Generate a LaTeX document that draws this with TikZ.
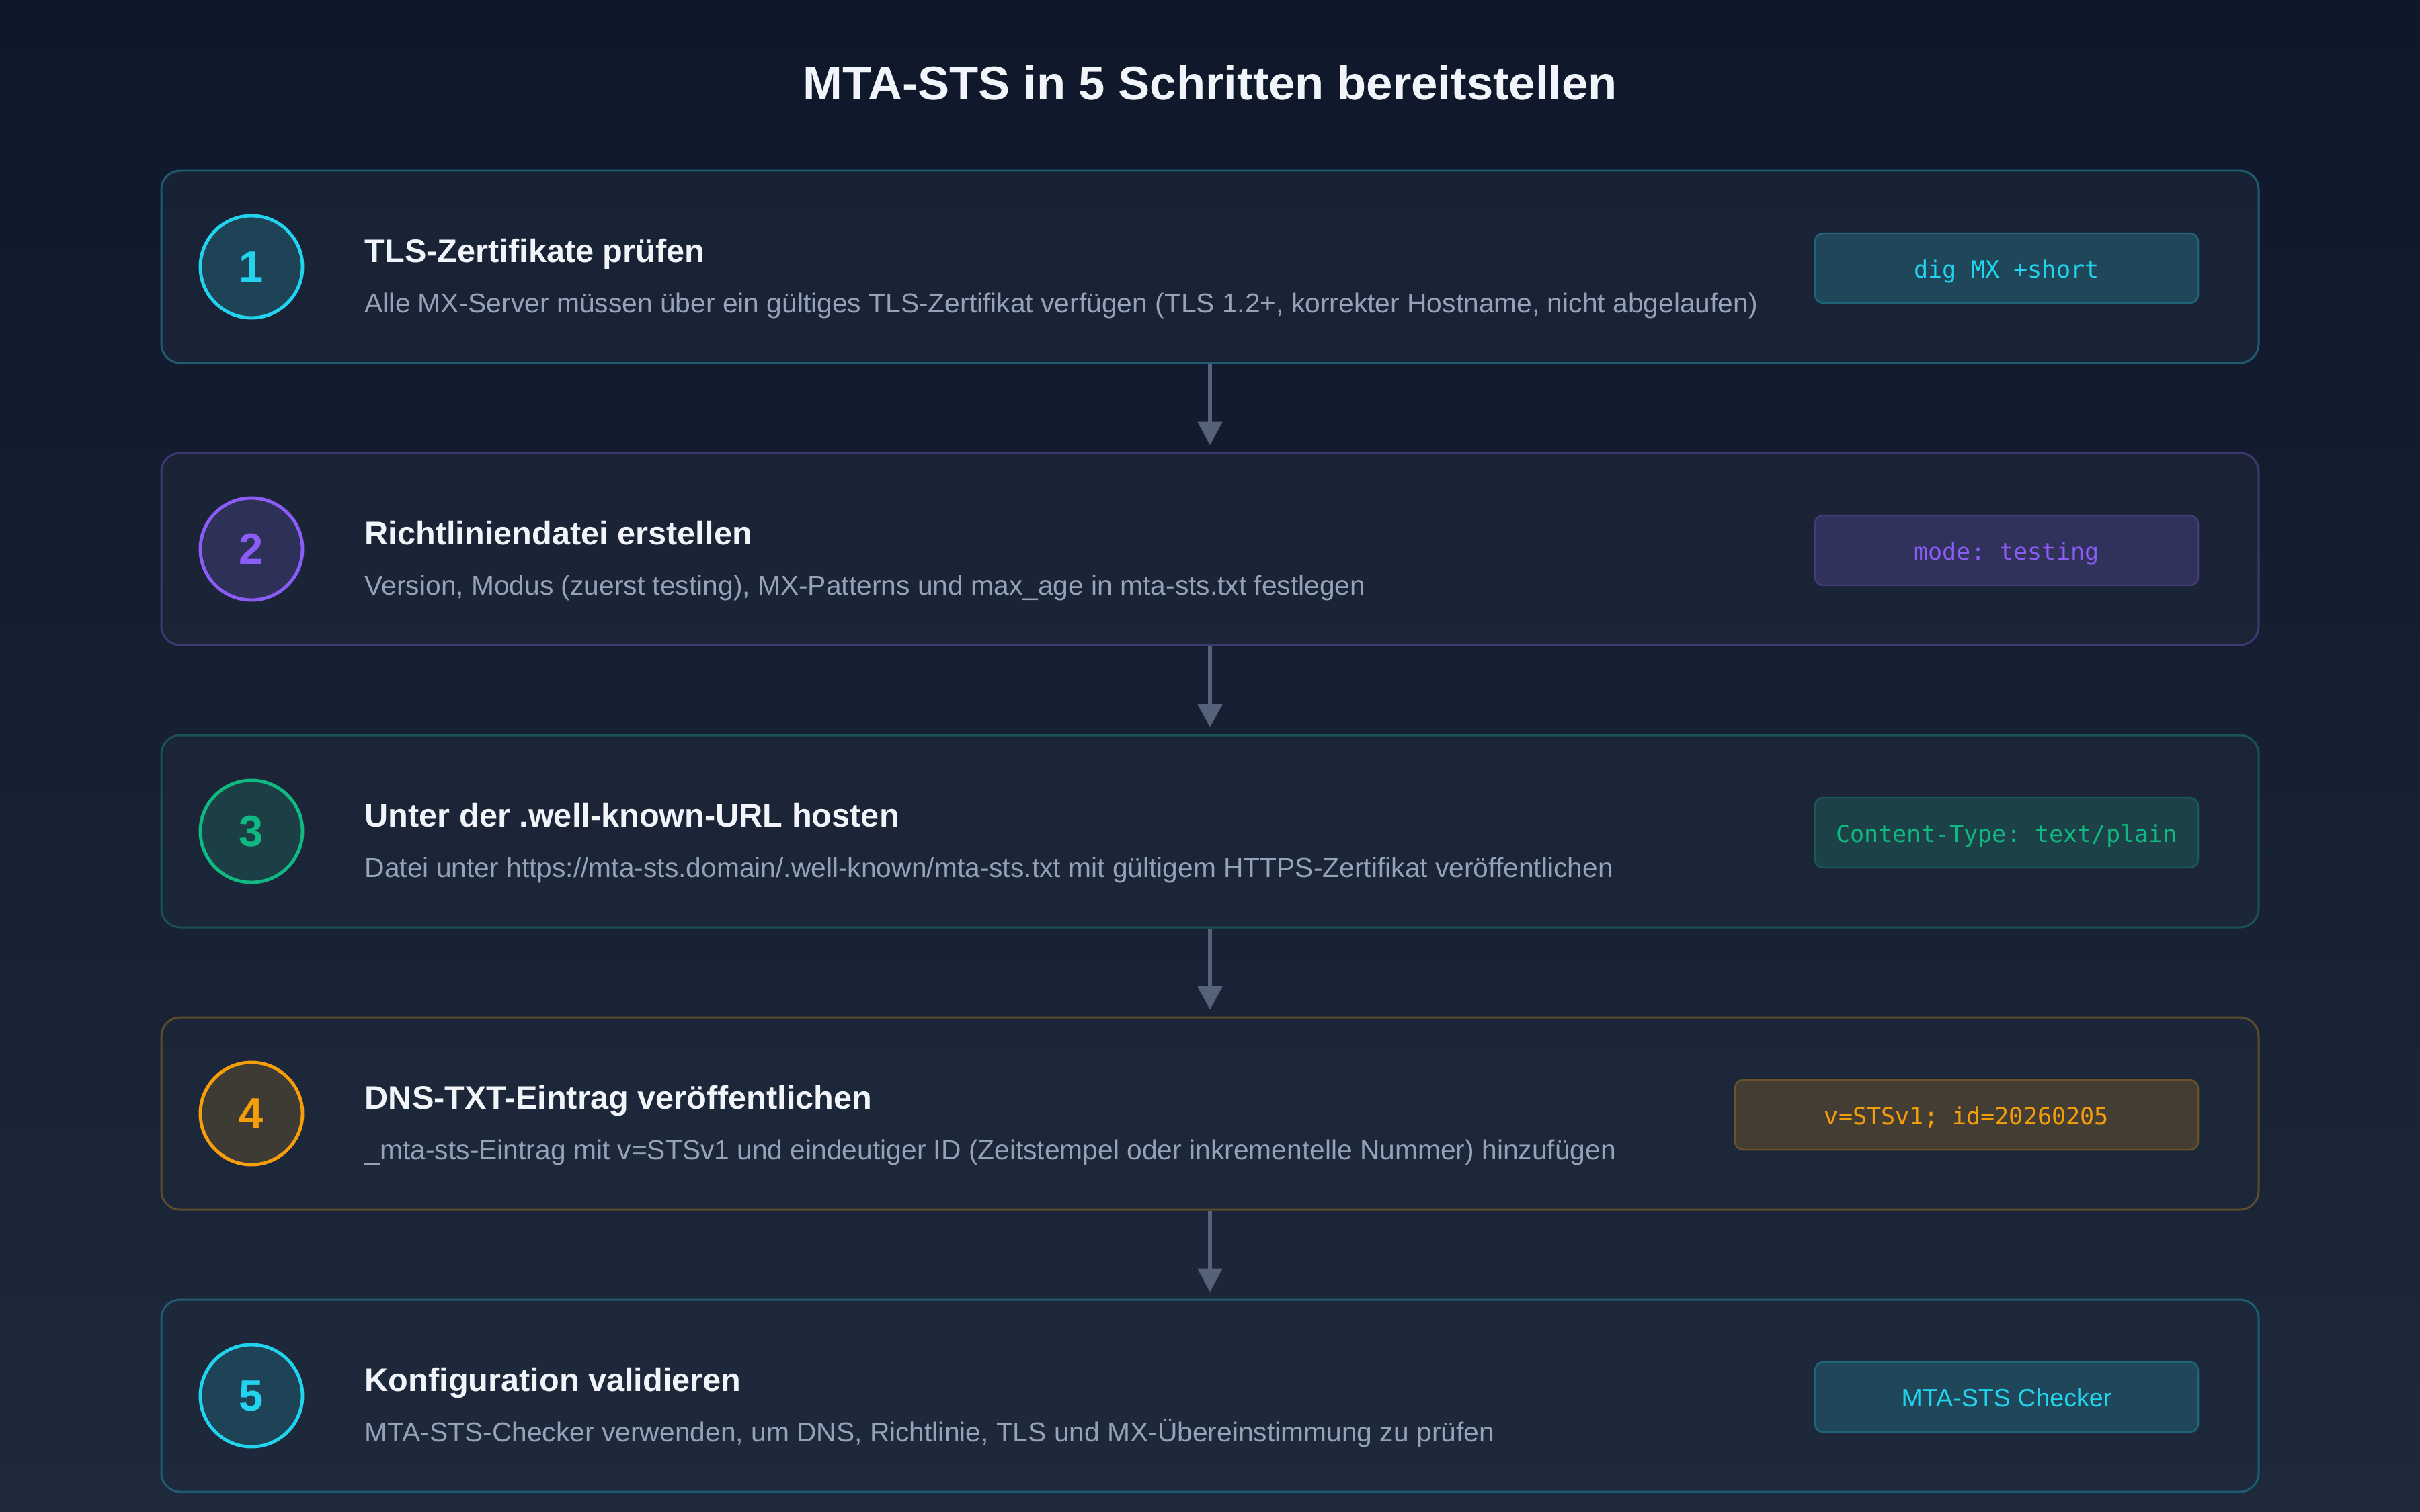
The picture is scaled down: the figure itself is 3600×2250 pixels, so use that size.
\documentclass[tikz,border=0pt]{standalone}
\usepackage{fontspec}
\setmainfont{Liberation Sans}
\setmonofont{DejaVu Sans Mono}
\usepackage{tikz}
\usetikzlibrary{arrows.meta}

\definecolor{bgtop}{HTML}{0F172A}
\definecolor{bgbot}{HTML}{1E293B}
\definecolor{cardbg}{HTML}{1E293B}
\definecolor{cyanc}{HTML}{22D3EE}
\definecolor{purplec}{HTML}{8B5CF6}
\definecolor{greenc}{HTML}{10B981}
\definecolor{amberc}{HTML}{F59E0B}
\definecolor{headc}{HTML}{F1F5F9}
\definecolor{descc}{HTML}{94A3B8}
\definecolor{arrowc}{HTML}{56627A}

\tikzset{
  stepbox/.style={draw=#1!30!cardbg, fill=cardbg, fill opacity=0.6, line width=0.85pt,
    rounded corners=2.8mm, minimum width=312mm, minimum height=28.6mm},
  numdot/.style={circle, draw=#1, fill=#1!15!cardbg, text=#1, line width=1.4pt,
    minimum size=15.2mm, inner sep=0pt, font=\fontsize{18.5}{18}\selectfont\bfseries},
  codebox/.style={draw=#1!35!cardbg, fill=#1!17!cardbg, text=#1, line width=0.7pt,
    rounded corners=1.2mm, minimum width=57mm, minimum height=10.4mm, inner sep=0pt,
    text height=2.8mm, text depth=0mm, font=\fontsize{10}{12}\ttfamily},
  headtext/.style={anchor=base west, text=headc, inner sep=0pt,
    font=\fontsize{13.85}{16}\selectfont\bfseries},
  desctext/.style={anchor=base west, text=descc, inner sep=0pt,
    font=\fontsize{11.6}{14}\selectfont},
  flowarrow/.style={draw=arrowc, line width=1.7pt, shorten >=1mm,
    -{Triangle[width=3.6mm, length=3.5mm]}}
}

\begin{document}
\begin{tikzpicture}[x=0.1mm, y=-0.1mm]
  \shade[top color=bgtop, bottom color=bgbot] (0,0) rectangle (3600,2250);
  \useasboundingbox (0,0) rectangle (3600,2250);

  \node[anchor=base, text=headc, font=\fontsize{20.1}{24}\selectfont\bfseries] (title) at (1800,149)
    {MTA-STS in 5 Schritten bereitstellen};

  % step cards
  \node[stepbox=cyanc] (s1) at (1800,397) {};
  \node[stepbox=purplec] (s2) at (1800,817) {};
  \node[stepbox=greenc] (s3) at (1800,1237) {};
  \node[stepbox=amberc] (s4) at (1800,1657) {};
  \node[stepbox=cyanc] (s5) at (1800,2077) {};

  \draw[flowarrow] (s1) -- (s2);
  \draw[flowarrow] (s2) -- (s3);
  \draw[flowarrow] (s3) -- (s4);
  \draw[flowarrow] (s4) -- (s5);

  % numbers
  \node[numdot=cyanc] (n1) at (374,397) {1};
  \node[numdot=purplec] (n2) at (374,817) {2};
  \node[numdot=greenc] (n3) at (374,1237) {3};
  \node[numdot=amberc] (n4) at (374,1657) {4};
  \node[numdot=cyanc] (n5) at (374,2077) {5};

  % titles and descriptions
  \node[headtext] (h1) at (542,390) {TLS-Zertifikate prüfen};
  \node[desctext] (d1) at (542,465) {Alle MX-Server müssen über ein gültiges TLS-Zertifikat verfügen (TLS 1.2+, korrekter Hostname, nicht abgelaufen)};
  \node[headtext] (h2) at (542,810) {Richtliniendatei erstellen};
  \node[desctext] (d2) at (542,885) {Version, Modus (zuerst testing), MX-Patterns und max\_age in mta-sts.txt festlegen};
  \node[headtext] (h3) at (542,1230) {Unter der .well-known-URL hosten};
  \node[desctext] (d3) at (542,1305) {Datei unter https://mta-sts.domain/.well-known/mta-sts.txt mit gültigem HTTPS-Zertifikat veröffentlichen};
  \node[headtext] (h4) at (542,1650) {DNS-TXT-Eintrag veröffentlichen};
  \node[desctext] (d4) at (542,1725) {\_mta-sts-Eintrag mit v=STSv1 und eindeutiger ID (Zeitstempel oder inkrementelle Nummer) hinzufügen};
  \node[headtext] (h5) at (542,2070) {Konfiguration validieren};
  \node[desctext] (d5) at (542,2145) {MTA-STS-Checker verwenden, um DNS, Richtlinie, TLS und MX-Übereinstimmung zu prüfen};

  % code hints
  \node[codebox=cyanc] (c1) at (2985,399) {dig MX +short};
  \node[codebox=purplec] (c2) at (2985,819) {mode: testing};
  \node[codebox=greenc] (c3) at (2985,1239) {Content-Type: text/plain};
  \node[codebox=amberc, minimum width=68.9mm] (c4) at (2925.5,1659) {v=STSv1; id=20260205};
  \node[codebox=cyanc, font=\fontsize{10.7}{13}\selectfont] (c5) at (2985,2079) {MTA-STS Checker};
\end{tikzpicture}
\end{document}
